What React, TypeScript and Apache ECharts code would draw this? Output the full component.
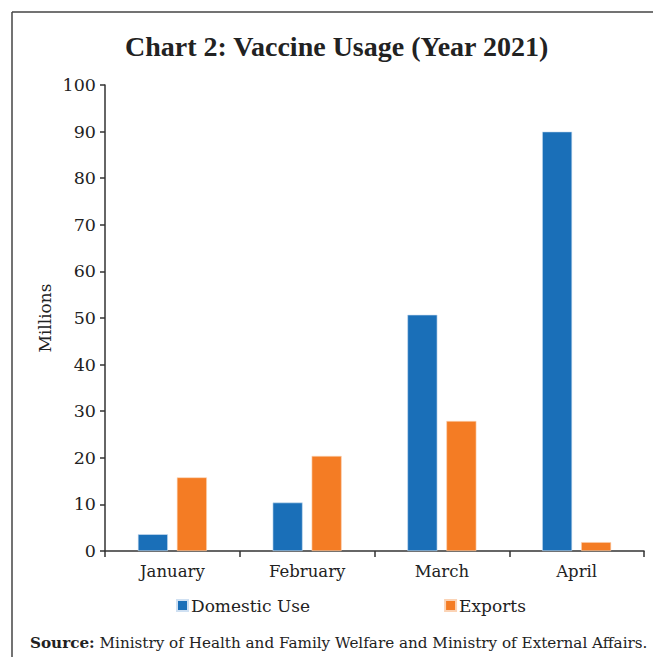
import React, { useEffect, useRef } from "react";
import * as echarts from "echarts";

const categories = ["January", "February", "March", "April"];
const domesticUse = [3.6, 10.4, 50.7, 90.0];
const exportsData = [15.8, 20.4, 27.9, 1.9];
const seriesNames = ["Domestic Use", "Exports"];
const titleText = "Chart 2: Vaccine Usage (Year 2021)";
const axisName = "Millions";
const sourceLabel = "Source:";
const sourceText = " Ministry of Health and Family Welfare and Ministry of External Affairs.";

const FONT = "'DejaVu Serif', 'Liberation Serif', serif";
const TITLE_FONT = "'Liberation Serif', 'DejaVu Serif', serif";
const BLUE = "#1a6fb8";
const ORANGE = "#f47c24";

export default function App() {
  const ref = useRef<HTMLDivElement>(null);
  useEffect(() => {
    if (!ref.current) return;
    const chart = echarts.init(ref.current, null, { renderer: "svg" });
    chart.setOption({
      animation: false,
      backgroundColor: "#ffffff",
      textStyle: { fontFamily: FONT },
      title: {
        text: titleText,
        left: 120,
        top: 27,
        textStyle: { fontFamily: TITLE_FONT, fontWeight: "bold", fontSize: 28, color: "#222" },
      },
      grid: { left: 105, right: 9, top: 85, bottom: 106, containLabel: false },
      legend: {
        data: seriesNames,
        left: 176,
        top: 597,
        padding: 0,
        itemWidth: 11,
        itemHeight: 11,
        itemGap: 134,
        icon: "rect",
        textStyle: { fontFamily: FONT, fontSize: 17, color: "#222", padding: [0, 0, 0, -2] },
      },
      xAxis: {
        type: "category",
        data: categories,
        axisLine: { lineStyle: { color: "#333", width: 1.5 } },
        axisTick: { show: true, length: 6, alignWithLabel: false, lineStyle: { color: "#333", width: 1.5 } },
        axisLabel: { fontFamily: FONT, fontSize: 16.5, color: "#222", margin: 12 },
      },
      yAxis: {
        type: "value",
        min: 0,
        max: 100,
        interval: 10,
        name: axisName,
        nameLocation: "middle",
        nameGap: 52,
        nameMoveOverlap: false,
        nameTextStyle: { fontFamily: FONT, fontSize: 17, color: "#222" },
        axisLine: { show: true, lineStyle: { color: "#333", width: 1.5 } },
        axisTick: { show: true, length: 5, lineStyle: { color: "#333", width: 1.5 } },
        axisLabel: { fontFamily: FONT, fontSize: 17.5, color: "#222", margin: 9 },
        splitLine: { show: false },
      },
      series: [
        {
          name: seriesNames[0],
          type: "bar",
          data: domesticUse,
          barWidth: 30,
          barGap: "30%",
          itemStyle: { color: BLUE, borderColor: "#cfe0f2", borderWidth: 0.6 },
        },
        {
          name: seriesNames[1],
          type: "bar",
          data: exportsData,
          barWidth: 30,
          barGap: "30%",
          itemStyle: { color: ORANGE, borderColor: "#fbd3b5", borderWidth: 0.6 },
        },
      ],
      graphic: [
        { type: "line", shape: { x1: 12, y1: 12, x2: 653, y2: 12 }, style: { stroke: "#444", lineWidth: 1.5 } },
        { type: "line", shape: { x1: 12, y1: 12, x2: 12, y2: 657 }, style: { stroke: "#444", lineWidth: 1.5 } },
        {
          type: "text",
          left: 30,
          top: 635,
          style: {
            text: "{b|" + sourceLabel + "}{n|" + sourceText + "}",
            rich: {
              b: { fontFamily: FONT, fontWeight: "bold", fontSize: 15.2, fill: "#222" },
              n: { fontFamily: FONT, fontSize: 15.2, fill: "#222" },
            },
          },
        },
      ],
    });
    return () => chart.dispose();
  }, []);
  return <div ref={ref} style={{ position: "absolute", left: 0, top: 0, width: 653, height: 657 }} />;
}
